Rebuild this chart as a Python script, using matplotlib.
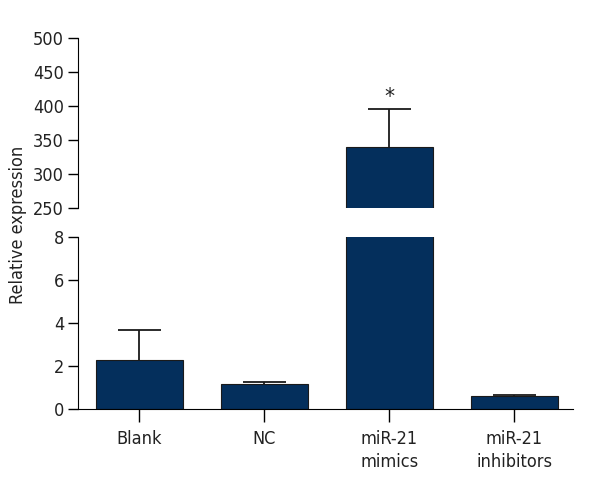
import numpy as np
import matplotlib.pyplot as plt
from matplotlib import font_manager

names = sorted({f.name for f in font_manager.fontManager.ttflist})
narrow = [n for n in names if 'Narrow' in n or 'Condensed' in n]
print(narrow)

plt.rcParams['font.family'] = ['DejaVu Sans']
plt.rcParams['font.stretch'] = 'condensed'

groups = ["Blank", "NC", "miR-21\nmimics", "miR-21\ninhibitors"]
means = [2.29, 1.15, 340.0, 0.62]
errs = [1.37, 0.12, 55.6, 0.05]
bar_color = '#042f5c'
txt = '#222222'

x = np.arange(len(groups))
fig = plt.figure(figsize=(6, 5), dpi=100)
ax_top = fig.add_axes([0.13, 0.584, 0.825, 0.34])
ax_bot = fig.add_axes([0.13, 0.182, 0.825, 0.344])

for ax in (ax_top, ax_bot):
    ax.bar(x, means, width=0.7, color=bar_color, edgecolor='#1a1a1a', linewidth=0.8,
           yerr=[np.zeros(len(errs)), errs], capsize=0,
           error_kw=dict(ecolor='#1a1a1a', elinewidth=1.3))
    # caps drawn by hand so only the top cap shows
    for xi, m, e in zip(x, means, errs):
        ax.hlines(m + e, xi - 0.17, xi + 0.17, color='#1a1a1a', lw=1.3)
    ax.set_xlim(-0.49, 3.47)
    ax.spines['top'].set_visible(False)
    ax.spines['right'].set_visible(False)
    ax.tick_params(axis='y', direction='out', length=7, width=1, labelsize=13, pad=3,
                   labelcolor=txt)
    ax.tick_params(axis='x', direction='out', length=9, width=1, labelsize=13, pad=6,
                   labelcolor=txt)

ax_top.set_ylim(250, 500)
ax_top.set_yticks([250, 300, 350, 400, 450, 500])
ax_top.spines['bottom'].set_visible(False)
ax_top.set_xticks([])
ax_top.text(x[2], means[2] + errs[2] + 3, '*', ha='center', va='bottom', fontsize=16,
            color=txt)

ax_bot.set_ylim(0, 8)
ax_bot.set_yticks([0, 2, 4, 6, 8])
ax_bot.set_xticks(x)
ax_bot.set_xticklabels(groups, linespacing=1.35)

fig.text(0.03, 0.55, 'Relative expression', rotation=90, ha='center', va='center',
         fontsize=13, color=txt)

fig.savefig('out.png', dpi=100)
